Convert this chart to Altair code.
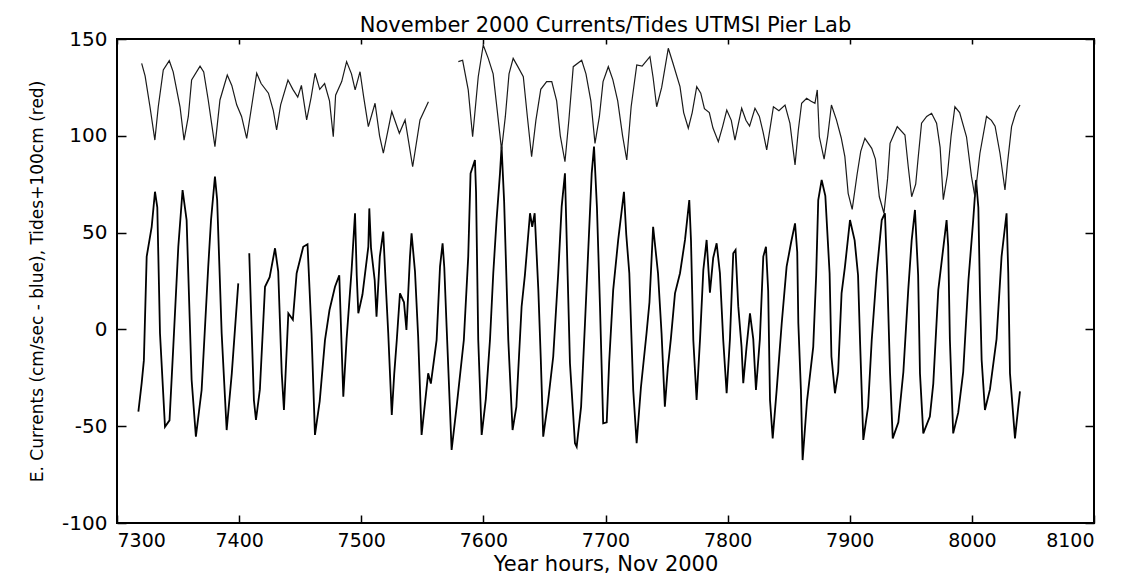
import altair as alt
import pandas as pd

# ---- data (year hours, values) ----
tide1_hour = [7320.2, 7323, 7327, 7331, 7333.8, 7337.9, 7342.8, 7346, 7351.6, 7354.9, 7358.4, 7361.1,
              7368, 7371, 7374.7, 7380.2, 7384.3, 7390.3, 7394, 7398, 7402, 7406.2, 7410.2, 7414.4,
              7418, 7424, 7428, 7430.7, 7434, 7440, 7444, 7448, 7451, 7455.3, 7459, 7462.2, 7466,
              7470, 7474, 7477.1, 7479, 7484, 7488, 7492, 7495, 7499, 7502, 7505.8, 7511.3, 7515,
              7518.1, 7525, 7531.2, 7535.9, 7542.1, 7548.1, 7555]
tide1_cm = [137.4, 131, 115, 97.8, 115, 134, 138.8, 133, 115, 97.8, 110, 128.8,
            136, 133, 118.5, 94.4, 118.5, 131.4, 126, 116, 110, 98.7, 115, 132.3,
            127, 122, 113, 103, 116, 128.8, 124, 120, 126, 108.2, 120, 132.3, 124,
            127, 118, 99.5, 121, 128, 138.3, 132, 123.7, 133.1, 120, 104.7, 116.8, 100,
            91, 112.5, 101.3, 108.2, 84, 108.2, 117.6]

tide2_hour = [7579.5, 7583, 7587.6, 7591.2, 7595.8, 7599.9, 7604, 7608, 7611, 7614.9, 7618, 7621,
              7624.4, 7628, 7632.7, 7636, 7639.5, 7643, 7647, 7651.8, 7656, 7660, 7663, 7666.8,
              7670, 7673.6, 7680.5, 7684, 7688, 7691.4, 7695, 7698, 7702.3, 7706, 7710, 7714,
              7717.4, 7721, 7725.6, 7730, 7736.4, 7739, 7741.9, 7746, 7751.4, 7755, 7761, 7764,
              7767.8, 7771, 7774.7, 7778, 7781, 7785, 7788, 7792.4, 7796, 7799.3, 7803, 7806,
              7811.5, 7815, 7818, 7822.4, 7826, 7829, 7832, 7837.5, 7842, 7847, 7851, 7855.2,
              7857.9, 7860.6, 7864.7, 7868, 7871.5, 7873.4, 7875.1, 7879, 7882, 7885, 7889.1,
              7893, 7896, 7898.7, 7902, 7906, 7909, 7912.4, 7918, 7921, 7924.2, 7928, 7931,
              7933, 7938.9, 7945.2, 7947.9, 7950.7, 7954, 7956.1, 7958.8, 7963, 7967, 7971.1,
              7974, 7976.6, 7980, 7983, 7986.1, 7990, 7995.6, 7999.7, 8002.5, 8006.6, 8012,
              8016, 8019, 8023, 8027.1, 8029, 8032.5, 8036, 8039.4]
tide2_cm = [138.3, 139, 123.7, 99.5, 130.5, 146.9, 140, 132, 115, 92.7, 110, 132,
            140, 136, 130.5, 110, 89.2, 108, 124, 128, 128, 118, 100, 86.6,
            108, 135.7, 139, 132, 118, 96.1, 110, 128, 135.7, 129, 118, 100,
            87.5, 115, 136.6, 136, 140.9, 130, 115, 125, 145.2, 138, 125.4, 112,
            103.9, 112, 125.4, 122, 114, 112, 104, 97, 105, 113.3, 108, 97.8,
            114.2, 108, 105, 114.2, 110, 102, 92.7, 115, 113, 115.9, 106.5, 85,
            103, 116.8, 119.4, 118, 116.8, 123.7, 99.5, 88, 100, 115.9, 108.2,
            99, 89.2, 70.3, 62, 80, 92, 98.7, 93.5, 88, 68.5, 60, 78,
            96.1, 104.7, 100.4, 84, 68.5, 75, 89.2, 106.5, 110, 111.6, 106.5,
            94, 67, 80, 100, 115, 112, 99.5, 78.9, 68.5, 91, 110,
            108, 105, 91, 72, 85, 104.7, 112, 115.9]

cur1_hour = [7317.5, 7320.2, 7322, 7324.3, 7328.4, 7331.1, 7333, 7335.2, 7339.3, 7343, 7346.1,
             7350.2, 7353.7, 7357, 7361.1, 7364.6, 7369.3, 7374.7, 7377, 7380.2, 7382, 7385.7,
             7389.8, 7394, 7399.3]
cur1_cms = [-42.5, -27.8, -16, 37.6, 53, 71.1, 63, -2, -50.3, -47, -8.9,
            42.7, 72, 56.5, -26, -55.4, -31.3, 32.4, 56.5, 78.9, 67, -2,
            -52, -22.7, 23.8]

cur2_hour = [7408.3, 7410, 7412.1, 7413.8, 7417, 7421.2, 7425, 7429.4, 7432, 7434.9, 7436.7,
             7440.3, 7444, 7447.1, 7452.5, 7456, 7459.3, 7462.1, 7466, 7470.3, 7474, 7478.5,
             7482, 7485.3, 7488, 7492.1, 7494.9, 7496.3, 7497.6, 7501, 7505.8, 7506.6, 7508,
             7511, 7512.5, 7515.2, 7518, 7520, 7522.1, 7525, 7527, 7529.1, 7531.7, 7535, 7537,
             7539.9, 7541.2, 7544, 7546.6, 7549.4, 7554.8, 7557, 7561.7, 7564.5, 7566.6, 7568,
             7569.9, 7574, 7578.1, 7584, 7587.6, 7589.5, 7593.1, 7594, 7595.8, 7598.6, 7602,
             7605.4, 7608.1, 7610.8, 7613.6, 7614.9, 7617, 7620.4, 7623.9, 7627, 7631.3, 7634,
             7638.2, 7640, 7642, 7645, 7647, 7649, 7653, 7657.2, 7661.3, 7664.1, 7666.8, 7669,
             7670.9, 7675, 7676.4, 7680, 7683.2, 7686, 7688.7, 7690.6, 7693, 7695.5, 7698.1,
             7701, 7703, 7706.3, 7710.4, 7715.1, 7717, 7719.5, 7722.7, 7725.5, 7729, 7733.6,
             7736, 7739, 7741, 7743, 7745.9, 7748.6, 7751, 7753.5, 7756.9, 7761, 7765.1,
             7768.6, 7770, 7771.9, 7774.6, 7777.4, 7780.1, 7782.8, 7785.5, 7788.2, 7791,
             7793.7, 7796.4, 7799.2, 7801.9, 7804.6, 7806.5, 7808.7, 7811.4, 7812.8, 7815.5,
             7818.3, 7821, 7823.2, 7826.4, 7829.2, 7831.4, 7833.2, 7834.7, 7836.9, 7840.2,
             7844.3, 7848.3, 7852, 7855.2, 7857, 7857.9, 7860, 7861.4, 7865, 7870.1, 7872.5,
             7874.2, 7877, 7880, 7883.5, 7885, 7887.9, 7890.5, 7893.3, 7896, 7900.2, 7904,
             7906.8, 7908.4, 7911.1, 7915, 7918, 7922, 7926.2, 7928.8, 7930.7, 7933, 7935.2,
             7939.8, 7943.9, 7947.9, 7950.7, 7953.4, 7956, 7957.5, 7960.2, 7965.6, 7968.4,
             7972.5, 7979.3, 7980.6, 7982, 7984.7, 7988.8, 7992.9, 7997.2, 8001.1, 8003.4,
             8005.3, 8006.6, 8008, 8010.7, 8014.8, 8020.2, 8024.3, 8028.4, 8029.8, 8031.2,
             8035.3, 8038, 8039.4]
cur2_cms = [39.3, 5, -36.5, -46.8, -31, 22, 27, 41.9, 30, -22.7, -41.6,
            8.3, 5, 29, 42.7, 44, -2, -54.5, -37, -5.5, 10, 22,
            28, -34.8, -5, 30.7, 60, 28, 8.3, 18, 42.7, 62.5, 42,
            25.5, 6.6, 37.6, 50.5, 24, -2, -44.2, -23, -5.5, 18.6, 14, -0.3,
            37.6, 49.6, 30, -3.8, -54.5, -22.7, -28, -5.5, 32.4, 44.5, 32,
            1.4, -62.3, -39.9, -5.5, 37.6, 80.6, 87.5, 71, -5.5, -54.5, -36,
            -5.5, 29, 56.5, 80.6, 94.4, 66, -5.5, -52, -40, 11.7, 28,
            60, 53, 60, 20.4, -15, -55.4, -37, -14, 29, 63.4, 80.6, 28,
            -17.5, -58.8, -60.6, -40, 3.2, 42.7, 80.6, 94.4, 63, 11.7, -48.5,
            -48, -17, 20.4, 46.2, 71.1, 49, 29, -31.3, -58.8, -30, -2,
            14, 53, 41, 29, -2, -39.9, -20, -5, 18.6, 29, 46.2,
            66.8, 46, -5.5, -36.5, -5, 30.7, 46.2, 19, 37, 44.5,
            29, -5.5, -33, -5, 39.3, 41, 12, -9, -27.8, -9,
            8.3, -5, -31.3, -5, 37.6, 42.7, 20, -36.5, -56.3, -31,
            3.2, 32.4, 45, 54.8, 40, 3.2, -31.3, -67.5, -37, -9, 28,
            66.8, 77.2, 69, 29, -14, -33, -22, 18.6, 32, 56.5, 46,
            28, -5.5, -57.1, -40, -5.5, 29, 56.5, 60, 28, -22.7, -56.3,
            -48, -22, 20.4, 46, 61.7, 28, -22.7, -53.7, -45, -28,
            20.4, 56.5, 43, -5.5, -53.7, -43, -22, 25.5, 56.5, 77.2,
            63, 20, -15.8, -41.6, -31, -5, 37.6, 60, 29, -22.7,
            -56.3, -40, -32]

x_ticks = [7300, 7400, 7500, 7600, 7700, 7800, 7900, 8000, 8100]
y_ticks = [-100, -50, 0, 50, 100, 150]

# ---- tables ----
def frame(hours, vals, series, seg):
    return pd.DataFrame({"hour": hours, "value": vals, "series": series, "seg": seg})

tides = pd.concat([frame(tide1_hour, tide1_cm, "tide", "t1"),
                   frame(tide2_hour, tide2_cm, "tide", "t2")])
currents = pd.concat([frame(cur1_hour, cur1_cms, "current", "c1"),
                      frame(cur2_hour, cur2_cms, "current", "c2")])

FONT = "DejaVu Sans"
xs = alt.Scale(domain=[7300, 8100], nice=False, zero=False)
ys = alt.Scale(domain=[-100, 150], nice=False, zero=False)

def tick_axis(orient, size, values):
    return alt.Axis(orient=orient, values=values, labels=False, ticks=True,
                    tickSize=size, offset=-size, domain=False, grid=False,
                    title=None, tickColor="black", tickWidth=1.5)

# currents with labelled axes
cur_line = alt.Chart(currents).mark_line(color="black", strokeWidth=1.8).encode(
    x=alt.X("hour:Q", scale=xs,
            axis=alt.Axis(orient="bottom", values=x_ticks, ticks=False, tickSize=0,
                          domain=False, grid=False, labelFont=FONT, labelFontSize=19,
                          labelColor="black", labelPadding=8,
                          labelExpr="'' + datum.value",
                          title="Year hours, Nov 2000", titleFont=FONT,
                          titleFontSize=21, titleFontWeight="normal",
                          titleColor="black", titlePadding=3)),
    y=alt.Y("value:Q", scale=ys,
            axis=alt.Axis(orient="left", values=y_ticks, ticks=False, tickSize=0,
                          domain=False, grid=False, labelFont=FONT, labelFontSize=20,
                          labelColor="black", labelPadding=10,
                          labelExpr="'' + datum.value",
                          title="E. Currents (cm/sec - blue),  Tides+100cm (red)",
                          titleFont=FONT, titleFontSize=17,
                          titleFontWeight="normal", titleColor="black",
                          titlePadding=15)),
    detail="seg:N",
)

# tides with top/right inner ticks
tide_line = alt.Chart(tides).mark_line(color="#1a1a1a", strokeWidth=1.2).encode(
    x=alt.X("hour:Q", scale=xs, axis=tick_axis("top", 5, x_ticks)),
    y=alt.Y("value:Q", scale=ys, axis=tick_axis("right", 9, y_ticks)),
    detail="seg:N",
)

# invisible copy carrying bottom/left inner ticks
tick_layer = alt.Chart(currents).mark_line(opacity=0).encode(
    x=alt.X("hour:Q", scale=xs, axis=tick_axis("bottom", 8, x_ticks)),
    y=alt.Y("value:Q", scale=ys, axis=tick_axis("left", 9, y_ticks)),
    detail="seg:N",
)

chart = alt.layer(cur_line, tide_line, tick_layer).resolve_axis(
    x="independent", y="independent"
).properties(
    width=977, height=484,
    title=alt.TitleParams("November 2000 Currents/Tides UTMSI Pier Lab",
                          font=FONT, fontSize=21, fontWeight="normal",
                          color="black", anchor="middle", offset=-7),
    autosize=alt.AutoSizeParams(type="none"),
    padding={"left": 117, "top": 39, "right": 36, "bottom": 59},
    background="white",
).configure_view(stroke="black", strokeWidth=2)

chart.save("out.html", embed_options={"renderer": "svg", "actions": False})
